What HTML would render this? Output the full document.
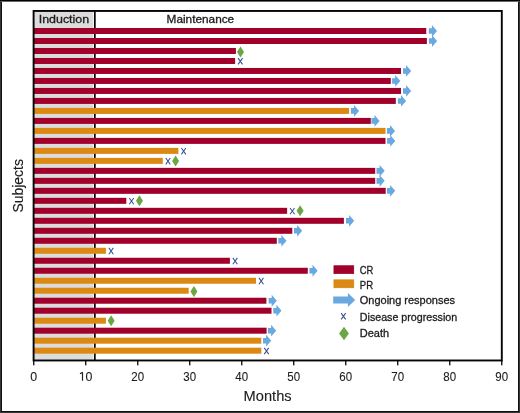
<!DOCTYPE html>
<html><head><meta charset="utf-8"><style>
html,body{margin:0;padding:0;background:#fff;}
body{width:520px;height:413px;overflow:hidden;position:relative;}
svg{position:absolute;left:0;top:0;will-change:transform;}
text{stroke:#1f1b1c;stroke-width:0.3px;font-family:"Liberation Sans",sans-serif;}
</style></head><body>
<div style="position:absolute;left:0;top:0;width:1px;height:413px;background:#363636"></div>
<div style="position:absolute;left:1px;top:0;width:1px;height:413px;background:#111"></div>
<div style="position:absolute;left:519px;top:0;width:1px;height:413px;background:#363636"></div>
<div style="position:absolute;left:518px;top:0;width:1px;height:413px;background:#111"></div>
<div style="position:absolute;left:0;top:412px;width:520px;height:1px;background:#363636"></div>
<div style="position:absolute;left:1px;top:411px;width:518px;height:1px;background:#111"></div>
<div style="position:absolute;left:0;top:0;width:520px;height:1px;background:#000"></div>
<div style="position:absolute;left:1px;top:1px;width:518px;height:1px;background:#6a6a6a"></div>
<svg width="520" height="413" viewBox="0 0 520 413">
<rect x="34" y="11.5" width="59.3" height="348.5" fill="#dcdcdc"/>
<rect x="94.0" y="11" width="1.7" height="349" fill="#050505"/>
<rect x="33.75" y="28.0" width="392.50" height="6.0" fill="#a1002a"/>
<polygon points="428.80,28.20 431.90,28.20 431.90,25.10 437.00,31.00 431.90,36.90 431.90,33.80 428.80,33.80" fill="#69a9df"/>
<rect x="33.75" y="37.99" width="393.15" height="6.0" fill="#a1002a"/>
<polygon points="428.90,38.19 432.00,38.19 432.00,35.09 437.10,40.99 432.00,46.89 432.00,43.79 428.90,43.79" fill="#69a9df"/>
<rect x="33.75" y="47.980000000000004" width="202.15" height="6.0" fill="#a1002a"/>
<polygon points="240.50,46.50 244.00,52.00 240.50,57.50 237.00,52.00" fill="#6aa743"/>
<rect x="33.75" y="57.97" width="201.35" height="6.0" fill="#a1002a"/>
<path d="M238.05,58.12 L242.55,64.42 M242.55,58.12 L238.05,64.42" stroke="#34538f" stroke-width="1.05" fill="none"/>
<rect x="33.75" y="67.96000000000001" width="367.25" height="6.0" fill="#a1002a"/>
<polygon points="403.00,68.16 406.10,68.16 406.10,65.06 411.20,70.96 406.10,76.86 406.10,73.76 403.00,73.76" fill="#69a9df"/>
<rect x="33.75" y="77.95" width="357.05" height="6.0" fill="#a1002a"/>
<polygon points="392.10,78.15 395.20,78.15 395.20,75.05 400.30,80.95 395.20,86.85 395.20,83.75 392.10,83.75" fill="#69a9df"/>
<rect x="33.75" y="87.94" width="367.25" height="6.0" fill="#a1002a"/>
<polygon points="403.00,88.14 406.10,88.14 406.10,85.04 411.20,90.94 406.10,96.84 406.10,93.74 403.00,93.74" fill="#69a9df"/>
<rect x="33.75" y="97.93" width="362.05" height="6.0" fill="#a1002a"/>
<polygon points="397.90,98.13 401.00,98.13 401.00,95.03 406.10,100.93 401.00,106.83 401.00,103.73 397.90,103.73" fill="#69a9df"/>
<rect x="33.75" y="107.92" width="315.35" height="6.0" fill="#dc8914"/>
<polygon points="350.85,108.12 353.95,108.12 353.95,105.02 359.05,110.92 353.95,116.82 353.95,113.72 350.85,113.72" fill="#69a9df"/>
<rect x="33.75" y="117.91" width="337.05" height="6.0" fill="#a1002a"/>
<polygon points="371.40,118.11 374.50,118.11 374.50,115.01 379.60,120.91 374.50,126.81 374.50,123.71 371.40,123.71" fill="#69a9df"/>
<rect x="33.75" y="127.9" width="351.75" height="6.0" fill="#dc8914"/>
<polygon points="386.90,128.10 390.00,128.10 390.00,125.00 395.10,130.90 390.00,136.80 390.00,133.70 386.90,133.70" fill="#69a9df"/>
<rect x="33.75" y="137.89" width="351.75" height="6.0" fill="#a1002a"/>
<polygon points="387.10,138.09 390.20,138.09 390.20,134.99 395.30,140.89 390.20,146.79 390.20,143.69 387.10,143.69" fill="#69a9df"/>
<rect x="33.75" y="147.88" width="144.65" height="6.0" fill="#dc8914"/>
<path d="M181.35,148.03 L185.85,154.33 M185.85,148.03 L181.35,154.33" stroke="#34538f" stroke-width="1.05" fill="none"/>
<rect x="33.75" y="157.87" width="129.05" height="6.0" fill="#dc8914"/>
<path d="M165.75,158.02 L170.25,164.32 M170.25,158.02 L165.75,164.32" stroke="#34538f" stroke-width="1.05" fill="none"/>
<polygon points="175.60,155.50 179.10,161.00 175.60,166.50 172.10,161.00" fill="#6aa743"/>
<rect x="33.75" y="167.86" width="341.45" height="6.0" fill="#a1002a"/>
<polygon points="376.50,168.06 379.60,168.06 379.60,164.96 384.70,170.86 379.60,176.76 379.60,173.66 376.50,173.66" fill="#69a9df"/>
<rect x="33.75" y="177.85" width="341.45" height="6.0" fill="#a1002a"/>
<polygon points="376.50,178.05 379.60,178.05 379.60,174.95 384.70,180.85 379.60,186.75 379.60,183.65 376.50,183.65" fill="#69a9df"/>
<rect x="33.75" y="187.84" width="351.95" height="6.0" fill="#a1002a"/>
<polygon points="387.00,188.04 390.10,188.04 390.10,184.94 395.20,190.84 390.10,196.74 390.10,193.64 387.00,193.64" fill="#69a9df"/>
<rect x="33.75" y="197.83" width="92.55" height="6.0" fill="#a1002a"/>
<path d="M129.25,197.98 L133.75,204.28 M133.75,197.98 L129.25,204.28" stroke="#34538f" stroke-width="1.05" fill="none"/>
<polygon points="139.45,195.20 142.95,200.70 139.45,206.20 135.95,200.70" fill="#6aa743"/>
<rect x="33.75" y="207.82" width="253.35" height="6.0" fill="#a1002a"/>
<path d="M290.05,207.97 L294.55,214.27 M294.55,207.97 L290.05,214.27" stroke="#34538f" stroke-width="1.05" fill="none"/>
<polygon points="300.10,205.20 303.60,210.70 300.10,216.20 296.60,210.70" fill="#6aa743"/>
<rect x="33.75" y="217.81" width="310.15" height="6.0" fill="#a1002a"/>
<polygon points="346.00,218.01 349.10,218.01 349.10,214.91 354.20,220.81 349.10,226.71 349.10,223.61 346.00,223.61" fill="#69a9df"/>
<rect x="33.75" y="227.8" width="258.55" height="6.0" fill="#a1002a"/>
<polygon points="294.00,228.00 297.10,228.00 297.10,224.90 302.20,230.80 297.10,236.70 297.10,233.60 294.00,233.60" fill="#69a9df"/>
<rect x="33.75" y="237.79" width="243.05" height="6.0" fill="#a1002a"/>
<polygon points="278.30,237.99 281.40,237.99 281.40,234.89 286.50,240.79 281.40,246.69 281.40,243.59 278.30,243.59" fill="#69a9df"/>
<rect x="33.75" y="247.78" width="72.15" height="6.0" fill="#dc8914"/>
<path d="M108.85,247.93 L113.35,254.23 M113.35,247.93 L108.85,254.23" stroke="#34538f" stroke-width="1.05" fill="none"/>
<rect x="33.75" y="257.77" width="196.15" height="6.0" fill="#a1002a"/>
<path d="M232.85,257.92 L237.35,264.22 M237.35,257.92 L232.85,264.22" stroke="#34538f" stroke-width="1.05" fill="none"/>
<rect x="33.75" y="267.76" width="274.05" height="6.0" fill="#a1002a"/>
<polygon points="309.40,267.96 312.50,267.96 312.50,264.86 317.60,270.76 312.50,276.66 312.50,273.56 309.40,273.56" fill="#69a9df"/>
<rect x="33.75" y="277.75" width="222.25" height="6.0" fill="#dc8914"/>
<path d="M258.95,277.90 L263.45,284.20 M263.45,277.90 L258.95,284.20" stroke="#34538f" stroke-width="1.05" fill="none"/>
<rect x="33.75" y="287.74" width="154.95" height="6.0" fill="#dc8914"/>
<polygon points="193.90,286.00 197.40,291.50 193.90,297.00 190.40,291.50" fill="#6aa743"/>
<rect x="33.75" y="297.73" width="232.65" height="6.0" fill="#a1002a"/>
<polygon points="268.60,297.93 271.70,297.93 271.70,294.83 276.80,300.73 271.70,306.63 271.70,303.53 268.60,303.53" fill="#69a9df"/>
<rect x="33.75" y="307.72" width="237.75" height="6.0" fill="#a1002a"/>
<polygon points="273.30,307.92 276.40,307.92 276.40,304.82 281.50,310.72 276.40,316.62 276.40,313.52 273.30,313.52" fill="#69a9df"/>
<rect x="33.75" y="317.71" width="72.15" height="6.0" fill="#dc8914"/>
<polygon points="111.15,315.20 114.65,320.70 111.15,326.20 107.65,320.70" fill="#6aa743"/>
<rect x="33.75" y="327.7" width="232.85" height="6.0" fill="#a1002a"/>
<polygon points="268.00,327.90 271.10,327.90 271.10,324.80 276.20,330.70 271.10,336.60 271.10,333.50 268.00,333.50" fill="#69a9df"/>
<rect x="33.75" y="337.69" width="227.55" height="6.0" fill="#dc8914"/>
<polygon points="263.00,337.89 266.10,337.89 266.10,334.79 271.20,340.69 266.10,346.59 266.10,343.49 263.00,343.49" fill="#69a9df"/>
<rect x="33.75" y="347.68" width="227.55" height="6.0" fill="#dc8914"/>
<path d="M264.25,347.83 L268.75,354.13 M268.75,347.83 L264.25,354.13" stroke="#34538f" stroke-width="1.05" fill="none"/>
<rect x="33.6" y="10.95" width="468.2" height="349.52" fill="none" stroke="#050505" stroke-width="1.9"/>
<rect x="33.10" y="360" width="1.3" height="5.3" fill="#050505"/>
<text x="33.75" y="380.6" font-size="12.4" text-anchor="middle" fill="#1f1b1c" style="stroke-width:0.1px">0</text>
<rect x="85.10" y="360" width="1.3" height="5.3" fill="#050505"/>
<path d="M82.5,372.3 L82.5,380.8 M80.0,373.7 L82.6,372.3" stroke="#1f1b1c" stroke-width="1.15" fill="none"/>
<text x="88.95" y="380.6" font-size="12.4" text-anchor="middle" fill="#1f1b1c" style="stroke-width:0.1px">0</text>
<rect x="137.10" y="360" width="1.3" height="5.3" fill="#050505"/>
<text x="137.75" y="380.6" font-size="12.4" text-anchor="middle" textLength="12.8" lengthAdjust="spacingAndGlyphs" fill="#1f1b1c" style="stroke-width:0.1px">20</text>
<rect x="189.10" y="360" width="1.3" height="5.3" fill="#050505"/>
<text x="189.75" y="380.6" font-size="12.4" text-anchor="middle" textLength="12.8" lengthAdjust="spacingAndGlyphs" fill="#1f1b1c" style="stroke-width:0.1px">30</text>
<rect x="241.10" y="360" width="1.3" height="5.3" fill="#050505"/>
<text x="241.75" y="380.6" font-size="12.4" text-anchor="middle" textLength="12.8" lengthAdjust="spacingAndGlyphs" fill="#1f1b1c" style="stroke-width:0.1px">40</text>
<rect x="293.10" y="360" width="1.3" height="5.3" fill="#050505"/>
<text x="293.75" y="380.6" font-size="12.4" text-anchor="middle" textLength="12.8" lengthAdjust="spacingAndGlyphs" fill="#1f1b1c" style="stroke-width:0.1px">50</text>
<rect x="345.10" y="360" width="1.3" height="5.3" fill="#050505"/>
<text x="345.75" y="380.6" font-size="12.4" text-anchor="middle" textLength="12.8" lengthAdjust="spacingAndGlyphs" fill="#1f1b1c" style="stroke-width:0.1px">60</text>
<rect x="397.10" y="360" width="1.3" height="5.3" fill="#050505"/>
<text x="397.75" y="380.6" font-size="12.4" text-anchor="middle" textLength="12.8" lengthAdjust="spacingAndGlyphs" fill="#1f1b1c" style="stroke-width:0.1px">70</text>
<rect x="449.10" y="360" width="1.3" height="5.3" fill="#050505"/>
<text x="449.75" y="380.6" font-size="12.4" text-anchor="middle" textLength="12.8" lengthAdjust="spacingAndGlyphs" fill="#1f1b1c" style="stroke-width:0.1px">80</text>
<rect x="501.10" y="360" width="1.3" height="5.3" fill="#050505"/>
<text x="501.75" y="380.6" font-size="12.4" text-anchor="middle" textLength="12.8" lengthAdjust="spacingAndGlyphs" fill="#1f1b1c" style="stroke-width:0.1px">90</text>
<text x="38.7" y="23" font-size="11" textLength="50.5" lengthAdjust="spacingAndGlyphs" fill="#1f1b1c">Induction</text>
<text x="166.6" y="23.4" font-size="11" textLength="67.6" lengthAdjust="spacingAndGlyphs" fill="#1f1b1c">Maintenance</text>
<text transform="translate(23.3,212.5) rotate(-90)" x="0" y="0" font-size="14.2" textLength="53.4" lengthAdjust="spacingAndGlyphs" fill="#1f1b1c" style="stroke-width:0.15px">Subjects</text>
<text x="243.6" y="401.4" font-size="14.2" textLength="48.0" lengthAdjust="spacingAndGlyphs" fill="#1f1b1c" style="stroke-width:0.12px">Months</text>
<rect x="333.9" y="265.7" width="19.9" height="8.0" fill="#a1002a" stroke="#950022" stroke-width="0.6"/>
<rect x="333.9" y="279.8" width="19.9" height="8.0" fill="#dc8914" stroke="#d28010" stroke-width="0.6"/>
<polygon points="333.2,296.6 347.9,296.6 347.9,293.0 355.2,300 347.9,307.0 347.9,303.4 333.2,303.4" fill="#69a9df"/>
<path d="M341.15,313.15 L345.65,319.35 M345.65,313.15 L341.15,319.35" stroke="#34538f" stroke-width="1.05" fill="none"/>
<polygon points="344.00,326.80 348.90,333.50 344.00,340.20 339.10,333.50" fill="#6aa743"/>
<text x="359.8" y="273.5" font-size="10.5" textLength="13.6" lengthAdjust="spacingAndGlyphs" fill="#1f1b1c">CR</text>
<text x="359.8" y="289.0" font-size="10.5" textLength="13.3" lengthAdjust="spacingAndGlyphs" fill="#1f1b1c">PR</text>
<text x="359.8" y="304.2" font-size="10.5" textLength="95.2" lengthAdjust="spacingAndGlyphs" fill="#1f1b1c">Ongoing responses</text>
<text x="359.8" y="321.1" font-size="10.5" textLength="97.4" lengthAdjust="spacingAndGlyphs" fill="#1f1b1c">Disease progression</text>
<text x="359.8" y="336.5" font-size="10.5" textLength="29.4" lengthAdjust="spacingAndGlyphs" fill="#1f1b1c">Death</text>
</svg>
</body></html>
